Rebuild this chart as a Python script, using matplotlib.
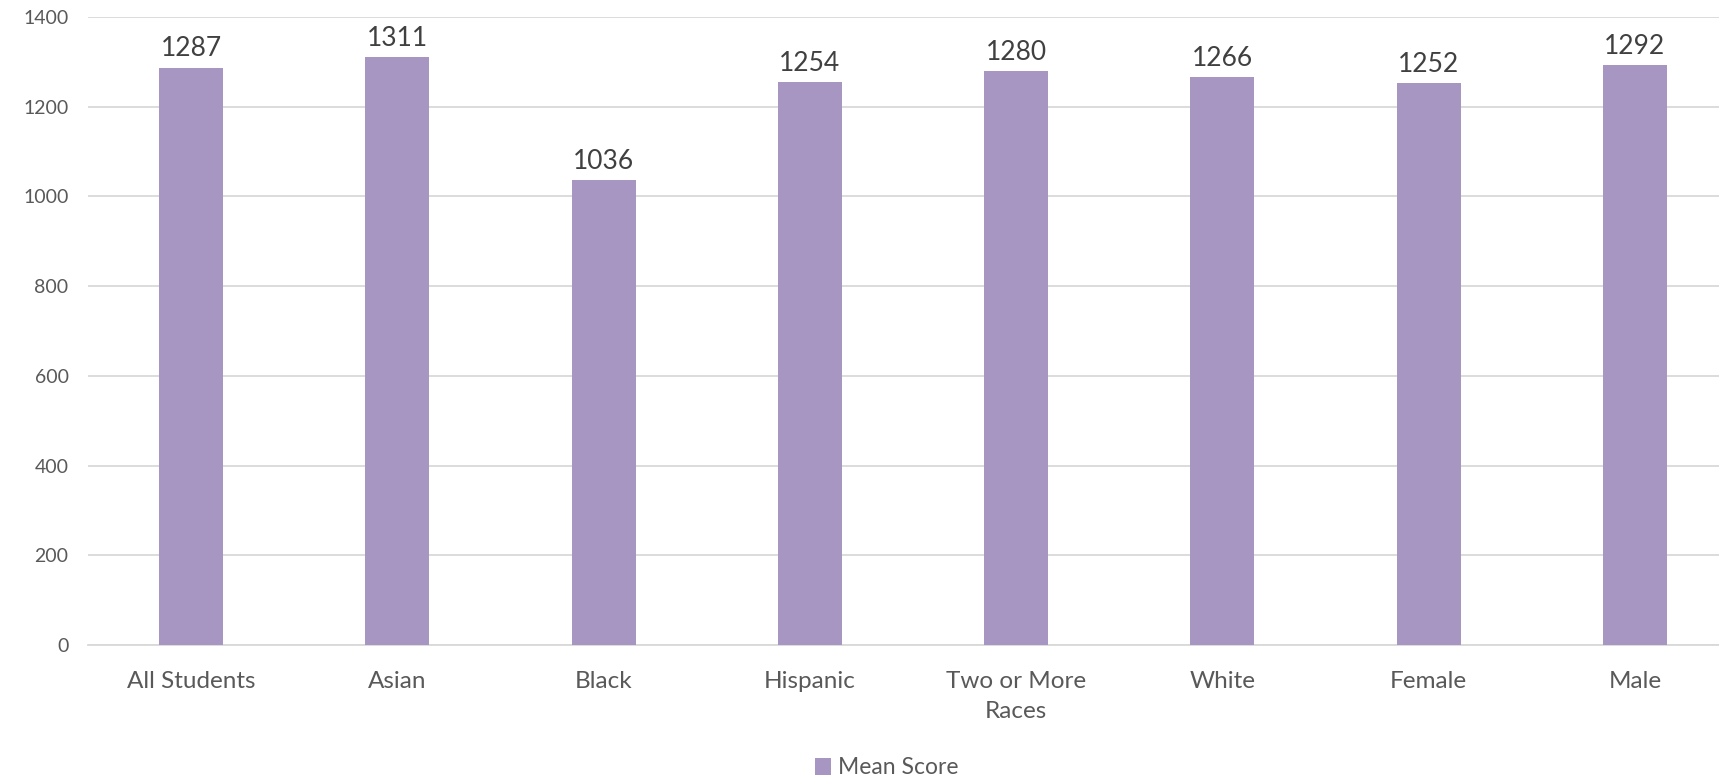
import matplotlib.pyplot as plt
import numpy as np

categories = ['All Students', 'Asian', 'Black', 'Hispanic', 'Two or More\nRaces', 'White', 'Female', 'Male']
mean_score = [1287, 1311, 1036, 1254, 1280, 1266, 1252, 1292]
y_ticks = [0, 200, 400, 600, 800, 1000, 1200, 1400]

BAR_COLOR = '#A696C1'
GRID_COLOR = '#D9D9D9'
plt.rcParams['font.family'] = ['Lato', 'DejaVu Sans']

fig = plt.figure(figsize=(17.19, 7.8), dpi=100)
ax = fig.add_axes([88 / 1719, 1 - 645 / 780, 1650 / 1719, (645 - 17) / 780])

x = np.arange(len(categories))
bars = ax.bar(x, mean_score, width=0.31, color=BAR_COLOR, label='Mean Score', zorder=3)

# подписи значений над столбцами
for xi, val in zip(x, mean_score):
    ax.annotate(str(val), (xi, val), xytext=(0, 4.5), textcoords='offset points',
                ha='center', va='bottom', fontsize=19, color='#404040')

ax.set_xlim(-0.5, len(categories) - 0.5)
ax.set_ylim(0, 1400)
ax.set_yticks(y_ticks)
ax.set_xticks(x)
ax.set_xticklabels(categories, fontsize=17.5, color='#595959', linespacing=1.55)
ax.tick_params(axis='y', labelsize=14, labelcolor='#595959', length=0, pad=14)
ax.tick_params(axis='x', length=0, pad=18.5)

ax.yaxis.grid(True, color=GRID_COLOR, linewidth=1.3, zorder=0)
for s in ['top', 'right', 'left']:
    ax.spines[s].set_visible(False)
ax.spines['bottom'].set_color(GRID_COLOR)
ax.spines['bottom'].set_linewidth(1.3)

fig.legend(handles=[bars], labels=['Mean Score'], loc='center', bbox_to_anchor=(887 / 1719, 1 - 768 / 780),
           frameon=False, fontsize=16.5, labelcolor='#595959', handlelength=0.7, handleheight=0.7,
           handletextpad=0.3)

plt.savefig('out.png', dpi=100)
